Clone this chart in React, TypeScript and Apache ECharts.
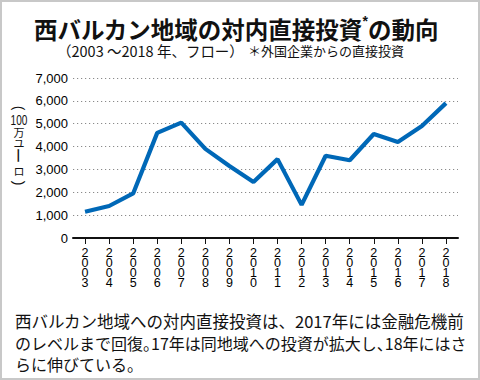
import React, { useEffect, useRef } from "react";
import * as echarts from "echarts";

const years = ["2003","2004","2005","2006","2007","2008","2009","2010","2011","2012","2013","2014","2015","2016","2017","2018"];
const fdi = [1150, 1400, 1950, 4600, 5050, 3900, 3150, 2450, 3450, 1450, 3600, 3400, 4550, 4200, 4900, 5900];
const yTicks = { min: 0, max: 7000, interval: 1000 };
const titleMain = "西バルカン地域の対内直接投資";
const titleStar = "*";
const titleEnd = "の動向";
const subtitle1 = "（2003 ～2018 年、フロー）";
const subtitle2 = "＊外国企業からの直接投資";
const noteLine1 = "西バルカン地域への対内直接投資は、2017年には金融危機前";
const noteLine2 = "のレベルまで回復{p|。}17年は同地域への投資が拡大し{p|、}18年にはさ";
const noteLine3 = "らに伸びている{p|。}";

const JP = "'Noto Sans CJK JP', sans-serif";
const NUM = "'Liberation Sans', Arial, 'Noto Sans CJK JP', sans-serif";

export default function App() {
  const ref = useRef<HTMLDivElement>(null);
  useEffect(() => {
    if (!ref.current) return;
    const chart = echarts.init(ref.current, null, { renderer: "svg" });
    const unitStyle = { fill: "#111", align: "center", verticalAlign: "middle" };
    chart.setOption({
      animation: false,
      backgroundColor: "#ffffff",
      grid: { left: 73, right: 22, top: 78, bottom: 142, containLabel: false },
      xAxis: {
        type: "category",
        data: years,
        boundaryGap: true,
        axisLine: { show: true, lineStyle: { color: "#111", width: 2 } },
        axisTick: { show: true, alignWithLabel: true, length: 6, lineStyle: { color: "#111", width: 1 } },
        axisLabel: {
          interval: 0,
          margin: 10,
          fontSize: 12.5,
          lineHeight: 10,
          color: "#000",
          fontFamily: NUM,
          formatter: (v: string) => v.split("").join("\n"),
        },
      },
      yAxis: {
        type: "value",
        min: yTicks.min,
        max: yTicks.max,
        interval: yTicks.interval,
        axisLine: { show: false },
        axisTick: { show: false },
        axisLabel: {
          margin: 5,
          fontSize: 13,
          color: "#000",
          fontFamily: NUM,
          formatter: (v: number) => v.toLocaleString("en-US"),
        },
        splitLine: { show: true, lineStyle: { color: "#8a8a8a", width: 1.2, type: [1.2, 2.8] } },
      },
      series: [
        {
          type: "line",
          data: fdi,
          symbol: "none",
          lineStyle: { color: "#0068b7", width: 4.2 },
          z: 5,
        },
      ],
      graphic: [
        {
          type: "rect",
          shape: { x: 1, y: 1, width: 478, height: 378 },
          style: { fill: "none", stroke: "#c8c8c8", lineWidth: 2 },
          silent: true,
        },
        {
          type: "text",
          x: 236,
          y: 29,
          style: {
            text: `{a|${titleMain}}{s|${titleStar}}{a|${titleEnd}}`,
            align: "center",
            verticalAlign: "middle",
            rich: {
              a: { fontSize: 23.5, fontWeight: "bold", fontFamily: JP, fill: "#111" },
              s: { fontSize: 14, fontWeight: "bold", fontFamily: NUM, fill: "#111", verticalAlign: "top", lineHeight: 30 },
            },
          },
        },
        {
          type: "text",
          x: 57,
          y: 50,
          style: { text: subtitle1, fontSize: 14.5, fontFamily: JP, fill: "#111", verticalAlign: "middle", align: "left" },
        },
        {
          type: "text",
          x: 248,
          y: 50,
          style: { text: subtitle2, fontSize: 13, fontFamily: JP, fill: "#111", verticalAlign: "middle", align: "left" },
        },
        // vertical y-axis unit: (100万ユーロ)
        {
          type: "text", x: 19, y: 108, rotation: -Math.PI / 2,
          style: { text: "(", fontSize: 14, fontFamily: NUM, ...unitStyle },
        },
        {
          type: "text", x: 19, y: 120.5, scaleX: 0.72,
          style: { text: "100", fontSize: 14, fontFamily: NUM, ...unitStyle },
        },
        {
          type: "text", x: 19, y: 131.5,
          style: { text: "万", fontSize: 11, fontFamily: JP, ...unitStyle },
        },
        {
          type: "text", x: 19, y: 142.5,
          style: { text: "ユ", fontSize: 11, fontFamily: JP, ...unitStyle },
        },
        {
          type: "text", x: 19, y: 155.5, rotation: -Math.PI / 2,
          style: { text: "ー", fontSize: 16, fontFamily: JP, ...unitStyle },
        },
        {
          type: "text", x: 19, y: 171,
          style: { text: "ロ", fontSize: 11, fontFamily: JP, ...unitStyle },
        },
        {
          type: "text", x: 19, y: 183, rotation: -Math.PI / 2,
          style: { text: ")", fontSize: 14, fontFamily: NUM, ...unitStyle },
        },
        {
          type: "text",
          x: 15,
          y: 320.5,
          style: { text: noteLine1, fontSize: 16.5, fontFamily: JP, fill: "#111", align: "left", verticalAlign: "middle" },
        },
        {
          type: "text",
          x: 15,
          y: 342.5,
          style: {
            text: noteLine2, fontSize: 16, fontFamily: JP, fill: "#111", align: "left", verticalAlign: "middle",
            rich: { p: { fontSize: 16, fontFamily: JP, fill: "#111", width: 8, align: "left" } },
          },
        },
        {
          type: "text",
          x: 15,
          y: 363.5,
          style: {
            text: noteLine3, fontSize: 16, fontFamily: JP, fill: "#111", align: "left", verticalAlign: "middle",
            rich: { p: { fontSize: 16, fontFamily: JP, fill: "#111", width: 8, align: "left" } },
          },
        },
      ],
    });
    return () => chart.dispose();
  }, []);
  return (
    <div
      ref={ref}
      style={{ position: "fixed", left: 0, top: 0, width: 480, height: 380 }}
    />
  );
}
